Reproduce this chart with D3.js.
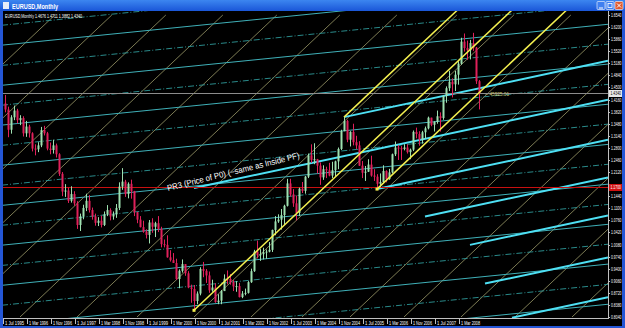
<!DOCTYPE html>
<meta charset="utf-8">
<style>
body{margin:0;background:#fff;overflow:hidden}
text{font-family:Arial,"Liberation Sans",sans-serif}
</style>
<script src="https://d3js.org/d3.v7.min.js"></script>
<body>
<script>

var width = 625, height = 328

// monthly bars, index 0 = Jul 1995 ... index 158 = Sep 2008
var firstOpen = 1.4050
var closes = [
1.3880,1.3310,1.3660,1.3850,1.3580,1.3640,
1.3210,1.3400,1.3210,1.2780,1.2760,1.2870,1.3300,1.3210,1.2780,1.2740,1.2870,1.2620,
1.2070,1.1570,1.1600,1.1310,1.1500,1.1240,1.0630,1.0870,1.1110,1.1310,1.1050,1.0870,
1.0690,1.0750,1.0630,1.0930,1.1050,1.0870,1.0930,1.1110,1.1710,1.1850,1.1500,1.1789,
1.1580,1.0990,1.0780,1.0570,1.0440,1.0350,1.0700,1.0580,1.0680,1.0520,1.0090,1.0070,
0.9720,0.9640,0.9560,0.9110,0.9340,0.9530,0.9270,0.8870,0.8830,0.8490,0.8700,0.9390,
0.9340,0.9210,0.8790,0.8870,0.8460,0.8500,0.8770,0.9120,0.9110,0.9020,0.8900,0.8910,
0.8600,0.8700,0.8720,0.9020,0.9330,0.9880,0.9780,0.9810,0.9860,0.9880,0.9930,1.0490,
1.0730,1.0780,1.0910,1.1170,1.1800,1.1490,1.1240,1.0970,1.1650,1.1590,1.1990,1.2590,
1.2460,1.2480,1.2300,1.1970,1.2200,1.2170,1.2020,1.2170,1.2420,1.2770,1.3270,1.3560,
1.3030,1.3250,1.2960,1.2870,1.2300,1.2100,1.2130,1.2330,1.2020,1.1990,1.1790,1.1840,
1.2150,1.1920,1.2110,1.2620,1.2810,1.2790,1.2770,1.2810,1.2680,1.2750,1.3250,1.3190,
1.3040,1.3240,1.3350,1.3650,1.3450,1.3530,1.3690,1.3640,1.4260,1.4480,1.4660,1.4590,
1.4860,1.5170,1.5790,1.5610,1.5550,1.5750,1.5620,1.4676,1.4340]
var highs = [
1.4290,1.3960,1.3720,1.3990,1.3900,1.3720,
1.3690,1.3560,1.3450,1.3240,1.2900,1.2960,1.3390,1.3420,1.3250,1.2950,1.3030,1.2920,
1.2650,1.2120,1.1780,1.1680,1.1720,1.1580,1.1300,1.0950,1.1200,1.1510,1.1470,1.1120,
1.0950,1.0850,1.0890,1.1010,1.1190,1.1100,1.1010,1.1220,1.1830,1.2230,1.1900,1.1830,
1.1906,1.1590,1.1000,1.0880,1.0750,1.0510,1.0770,1.0820,1.0720,1.0880,1.0580,1.0220,
1.0340,0.9920,0.9840,0.9680,0.9380,0.9660,0.9510,0.9330,0.8950,0.8940,0.8760,0.9440,
0.9590,0.9390,0.9320,0.9090,0.8990,0.8680,0.8800,0.9240,0.9350,0.9250,0.9080,0.9050,
0.9000,0.8770,0.8840,0.9050,0.9400,0.9930,1.0190,0.9950,0.9990,0.9940,1.0150,1.0500,
1.0880,1.0930,1.1080,1.1200,1.1930,1.1930,1.1640,1.1460,1.1680,1.1840,1.2010,1.2640,
1.2900,1.2930,1.2490,1.2390,1.2310,1.2270,1.2380,1.2410,1.2440,1.2810,1.3310,1.3666,
1.3590,1.3270,1.3480,1.3140,1.2990,1.2430,1.2290,1.2480,1.2580,1.2200,1.2060,1.2080,
1.2310,1.2170,1.2210,1.2640,1.2980,1.2880,1.2850,1.2900,1.2900,1.2780,1.3290,1.3370,
1.3270,1.3280,1.3400,1.3680,1.3620,1.3550,1.3850,1.3800,1.4280,1.4530,1.4970,1.4760,
1.4970,1.5240,1.5900,1.6019,1.5820,1.5840,1.6038,1.5640,1.4711]
var lows = [
1.3800,1.3100,1.3200,1.3580,1.3490,1.3440,
1.3120,1.3110,1.3090,1.2700,1.2590,1.2680,1.2820,1.3150,1.2730,1.2620,1.2640,1.2530,
1.2010,1.1440,1.1420,1.1250,1.1260,1.1170,1.0520,1.0460,1.0790,1.1020,1.0980,1.0780,
1.0610,1.0600,1.0560,1.0600,1.0880,1.0760,1.0780,1.0830,1.1050,1.1620,1.1420,1.1380,
1.1370,1.0880,1.0680,1.0560,1.0410,1.0250,1.0110,1.0410,1.0290,1.0430,1.0000,1.0000,
0.9710,0.9600,0.9560,0.9080,0.8850,0.9290,0.9200,0.8850,0.8440,0.8228,0.8400,0.8650,
0.9160,0.9000,0.8720,0.8750,0.8440,0.8400,0.8400,0.8770,0.8960,0.8950,0.8770,0.8750,
0.8590,0.8570,0.8650,0.8700,0.9000,0.9310,0.9690,0.9620,0.9660,0.9680,0.9860,0.9870,
1.0340,1.0690,1.0500,1.0630,1.1150,1.1430,1.1140,1.0760,1.0880,1.1530,1.1510,1.1950,
1.2380,1.2340,1.2080,1.1760,1.1900,1.1950,1.2000,1.1950,1.2000,1.2200,1.2740,1.3270,
1.2960,1.2840,1.2870,1.2770,1.2290,1.1950,1.1870,1.2120,1.1990,1.1870,1.1640,1.1690,
1.1800,1.1830,1.1900,1.2080,1.2570,1.2460,1.2460,1.2730,1.2640,1.2480,1.2710,1.3070,
1.2860,1.2920,1.3060,1.3320,1.3410,1.3260,1.3480,1.3260,1.3590,1.4070,1.4400,1.4220,
1.4400,1.4580,1.5140,1.5510,1.5280,1.5290,1.5530,1.4600,1.3882]

var priceTicks = [1.6540,1.6200,1.5860,1.5520,1.5180,1.4840,1.4500,1.4160,1.3820,1.3480,1.3140,1.2800,1.2460,
  1.2120,1.1780,1.1440,1.1100,1.0760,1.0420,1.0080,0.9740,0.9400,0.9060,0.8720,0.8380,0.8040]
var dateTicks = [0,8,16,24,32,40,48,56,64,72,80,88,96,104,112,120,128,136,144,152]
var dateLabels = ["1 Jul 1995","1 Mar 1996","1 Nov 1996","1 Jul 1997","1 Mar 1998","1 Nov 1998","1 Jul 1999",
  "1 Mar 2000","1 Nov 2000","1 Jul 2001","1 Mar 2002","1 Nov 2002","1 Jul 2003","1 Mar 2004","1 Nov 2004",
  "1 Jul 2005","1 Mar 2006","1 Nov 2006","1 Jul 2007","1 Mar 2008"]

var bidPrice = 1.4340
var redLevel = 1.1700
var header = [1.4676,1.4711,1.3882,1.4340]

// pitchfork points [month index, price]
var pf = [[63,0.8228],[113,1.3666],[124,1.1640]]

// shallow channel lines: price at month 0, slope per month
var leftSlope = 0.00085
var leftLines = [1.626,1.570,1.513,1.457,1.401,1.345,1.288,1.232,1.176,1.119,1.063,1.007,0.950,0.894,0.838,0.782,0.725,0.669]
// thick rays [start month, start price]
var rightSlope = 0.0018
var thickRays = [[113,1.3666],[63,1.1670],[124,1.1640],[140,1.0870],[155,1.0070],[160,0.8980],[169,0.8020]]
// steep lines: month where they cross price 0.8040
var steepCross = [-108,-90,-71,-53,-34,-16,5,24,44,63,82,99,115,133,152,170,189,207]

var x = d3.scaleLinear().domain([0,201]).range([5,608])
var y = d3.scaleLinear().domain([0.8040,1.6540]).range([317,15])

var svg = d3.select("body").append("svg").attr("width",width).attr("height",height)

// window frame
svg.append("rect").attr("width",width).attr("height",height).attr("fill","#2456d6")
var grad = svg.append("defs").append("linearGradient").attr("id","tb").attr("x1",0).attr("x2",0).attr("y1",0).attr("y2",1)
grad.append("stop").attr("offset","0").attr("stop-color","#3c86f0")
grad.append("stop").attr("offset","1").attr("stop-color","#1a56d8")
svg.append("rect").attr("width",width).attr("height",11).attr("fill","url(#tb)")
svg.append("rect").attr("x",3).attr("y",2).attr("width",6).attr("height",7).attr("fill","#e8eef8")
svg.append("text").attr("x",12).attr("y",8.5).attr("fill","#fff").style("font-size","8px").style("font-weight","bold")
  .attr("textLength",46).attr("lengthAdjust","spacingAndGlyphs").text("EURUSD,Monthly")
var btn = [[597,"#3f7ff0"],[606,"#3f7ff0"],[615,"#e05a30"]]
btn.forEach(function(b){
  svg.append("rect").attr("x",b[0]).attr("y",1.5).attr("width",8).attr("height",8).attr("rx",1).attr("fill",b[1]).attr("stroke","#fff").attr("stroke-width",0.6)
})
svg.append("line").attr("x1",599).attr("x2",603).attr("y1",8).attr("y2",8).attr("stroke","#fff")
svg.append("rect").attr("x",608).attr("y",3.5).attr("width",4).attr("height",4).attr("fill","none").attr("stroke","#fff").attr("stroke-width",0.8)
svg.append("path").attr("d","M617,3.5L621,7.5M621,3.5L617,7.5").attr("stroke","#fff").attr("stroke-width",1)

svg.append("rect").attr("x",3).attr("y",11).attr("width",619).attr("height",315).attr("fill","#000")

svg.append("clipPath").attr("id","clip").append("rect").attr("x",3).attr("y",11).attr("width",605).attr("height",307)
var g = svg.append("g").attr("clip-path","url(#clip)")

// steep khaki lines, same slope as the pitchfork median
var steepSlope = (pf[1][1]+pf[2][1])/2 - pf[0][1]
steepSlope = steepSlope / ((pf[1][0]+pf[2][0])/2 - pf[0][0])
g.selectAll(".steep").data(steepCross).enter().append("line")
  .attr("x1",d=>x(d)).attr("y1",y(0.8040))
  .attr("x2",d=>x(d+(1.6540-0.8040)/steepSlope)).attr("y2",y(1.6540))
  .attr("stroke","#9c9a6a").attr("stroke-width",0.8)

// shallow teal set
g.selectAll(".ls").data(leftLines).enter().append("line")
  .attr("x1",x(-1)).attr("y1",d=>y(d-leftSlope))
  .attr("x2",x(201)).attr("y2",d=>y(d+leftSlope*201))
  .attr("stroke",(d,i)=>i%2?"#3fb0b8":"#2f9a9a")
  .attr("stroke-width",(d,i)=>i%2?1:0.9)
  .attr("stroke-dasharray",(d,i)=>i%2?null:"6,2,1,2")

// thick rays
g.selectAll(".tr").data(thickRays).enter().append("line")
  .attr("x1",d=>x(d[0])).attr("y1",d=>y(d[1]))
  .attr("x2",x(201)).attr("y2",d=>y(d[1]+rightSlope*(201-d[0])))
  .attr("stroke","#4ee0f4").attr("stroke-width",2)

// horizontal levels
g.append("line").attr("x1",3).attr("x2",608).attr("y1",Math.round(y(redLevel))+0.5).attr("y2",Math.round(y(redLevel))+0.5)
  .attr("stroke","#c81010").attr("stroke-width",1)
g.append("line").attr("x1",3).attr("x2",608).attr("y1",Math.round(y(bidPrice))+0.5).attr("y2",Math.round(y(bidPrice))+0.5)
  .attr("stroke","#8c8c8c").attr("stroke-width",1)

// candles
var bars = closes.map(function(c,i){
  var o = i ? closes[i-1] : firstOpen
  return {i:i,o:o,c:c,h:Math.max(highs[i],o,c),l:Math.min(lows[i],o,c)}
})
var bull = "#9ee0b0", bear = "#e0205a"
g.selectAll(".wick").data(bars).enter().append("line")
  .attr("x1",d=>x(d.i)+0.5).attr("x2",d=>x(d.i)+0.5)
  .attr("y1",d=>y(d.h)).attr("y2",d=>y(d.l))
  .attr("stroke",d=>d.c>=d.o?bull:bear).attr("stroke-width",1)
g.selectAll(".body").data(bars).enter().append("rect")
  .attr("x",d=>x(d.i)-0.5).attr("width",2)
  .attr("y",d=>y(Math.max(d.o,d.c))).attr("height",d=>Math.max(1,y(Math.min(d.o,d.c))-y(Math.max(d.o,d.c))))
  .attr("fill",d=>d.c>=d.o?bull:bear)

// pitchfork
g.selectAll(".pf").data(pf).enter().append("line")
  .attr("x1",d=>x(d[0])).attr("y1",d=>y(d[1]))
  .attr("x2",d=>x(d[0]+(1.70-d[1])/steepSlope)).attr("y2",y(1.70))
  .attr("stroke","#f4f050").attr("stroke-width",1.5)
g.selectAll(".pfp").data([pf[0],pf[2]]).enter().append("rect")
  .attr("x",d=>x(d[0])-1.5).attr("y",d=>y(d[1])-1.5).attr("width",3).attr("height",3).attr("fill","#f4f050")

// labels on chart
g.append("text").attr("transform","translate(168,191) rotate(-14)")
  .attr("fill","#fff").style("font-size","8.5px").attr("textLength",136).attr("lengthAdjust","spacingAndGlyphs")
  .text("PR3 (Price of P0)  (~same as Inside PF)")
g.append("text").attr("x",x(159)+3).attr("y",y(1.4250)).attr("fill","#c8c070").style("font-size","6px")
  .attr("textLength",24).attr("lengthAdjust","spacingAndGlyphs").text("-- 45925.01")

// header
svg.append("text").attr("x",5).attr("y",17.5).attr("fill","#fff").style("font-size","5.5px")
  .attr("textLength",77).attr("lengthAdjust","spacingAndGlyphs")
  .text("EURUSD,Monthly  " + header.map(d3.format(".4f")).join(" "))

// price axis; labels hidden under a price box are skipped, as the terminal does
var boxes = [[bidPrice,"#e8e8e8","#000"],[redLevel,"#d01010","#fff"]]
var shownTicks = priceTicks.filter(function(t){
  return boxes.every(function(b){ return Math.abs(y(t)-y(b[0])) > 5 })
})
svg.append("line").attr("x1",608.5).attr("x2",608.5).attr("y1",11).attr("y2",319).attr("stroke","#c0c0c0")
var ya = svg.append("g").selectAll("g").data(shownTicks).enter().append("g")
  .attr("transform",d=>"translate(608,"+Math.round(y(d))+")")
ya.append("line").attr("x1",0).attr("x2",2).attr("y1",0.5).attr("y2",0.5).attr("stroke","#c0c0c0")
ya.append("text").attr("x",3).attr("y",2).attr("fill","#fff").style("font-size","5px")
  .attr("textLength",10.5).attr("lengthAdjust","spacingAndGlyphs").text(d3.format(".4f"))

boxes.forEach(function(b){
  var yy = Math.round(y(b[0]))
  svg.append("rect").attr("x",609).attr("y",yy-3).attr("width",13).attr("height",7).attr("fill",b[1])
  svg.append("text").attr("x",610.5).attr("y",yy+2).attr("fill",b[2]).style("font-size","5px")
    .attr("textLength",10.5).attr("lengthAdjust","spacingAndGlyphs").text(d3.format(".4f")(b[0]))
})

// time axis
svg.append("line").attr("x1",3).attr("x2",609).attr("y1",318.5).attr("y2",318.5).attr("stroke","#c0c0c0")
var xa = svg.append("g").selectAll("g").data(dateTicks).enter().append("g")
  .attr("transform",d=>"translate("+(Math.round(x(d))-2)+",318)")
xa.append("line").attr("x1",0.5).attr("x2",0.5).attr("y1",0).attr("y2",6).attr("stroke","#c0c0c0")
xa.append("text").attr("x",2).attr("y",6.5).attr("fill","#fff").style("font-size","5px")
  .attr("textLength",19).attr("lengthAdjust","spacingAndGlyphs").text((d,i)=>dateLabels[i])

</script>
